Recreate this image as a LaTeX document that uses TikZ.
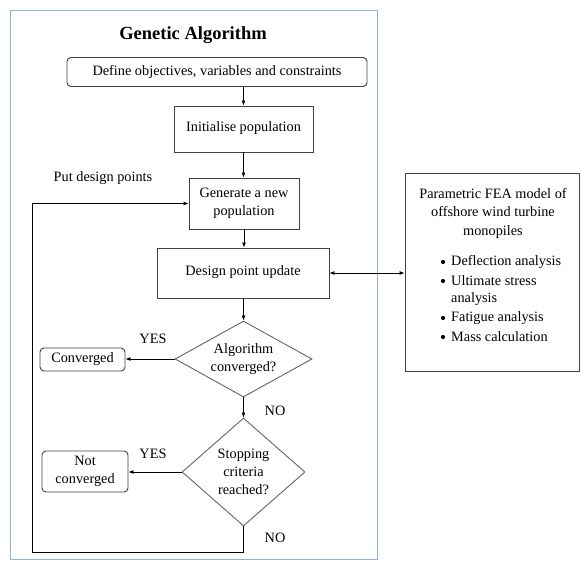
\documentclass[tikz,border=0pt]{standalone}
\usepackage{fontspec}
\setmainfont{Liberation Serif}
\usetikzlibrary{shapes.geometric,arrows.meta}
\definecolor{framec}{RGB}{140,180,226}
\definecolor{boxc}{RGB}{64,64,64}
\definecolor{diac}{RGB}{100,100,100}
\begin{document}
\begin{tikzpicture}[x=1pt,y=-1pt,
  every node/.style={font=\fontsize{14.3}{18}\selectfont},
  box/.style={draw=boxc,line width=0.9pt,rectangle,inner sep=0pt,align=center},
  rbox/.style={box,rounded corners=4pt},
  dia/.style={draw=diac,line width=0.9pt,diamond,inner sep=0pt},
  txt/.style={inner sep=0pt,align=center},
  dot/.style={circle,fill=black,inner sep=0pt,minimum size=4.2pt},
  arr/.style={-{Latex[length=5pt,width=4pt]},line width=0.8pt,black},
  darr/.style={{Latex[length=5pt,width=4pt]}-{Latex[length=5pt,width=4pt]},line width=0.8pt,black}]
\useasboundingbox (0,0) rectangle (581,560);
\draw[framec,line width=0.9pt] (10,10) rectangle (377,559);
\node[txt,font=\fontsize{18.5}{20}\selectfont\bfseries] (title) at (193,35) {Genetic Algorithm};
\node[rbox,minimum width=300pt,minimum height=29pt] (def) at (217,72) {Define objectives, variables and constraints};
\node[box,minimum width=139pt,minimum height=46pt,label={[txt]center:{\raisebox{4pt}{Initialise population}}}] (init) at (243.5,129) {};
\node[box,minimum width=110pt,minimum height=51pt] (gen) at (244,203.5) {Generate a new\\population};
\node[box,minimum width=172pt,minimum height=50pt,label={[txt]center:{\raisebox{4pt}{Design point update}}}] (des) at (243,273) {};
\node[box,minimum width=174pt,minimum height=198pt] (fea) at (492,272) {};
\node[txt,anchor=north,font=\fontsize{14.3}{18.5}\selectfont] (featitle) at (493,188) {Parametric FEA model of\\offshore wind turbine\\monopiles};
\node[dot] (b1) at (443,262) {};
\node[txt,anchor=west] (t1) at (451,262) {Deflection analysis};
\node[dot] (b2) at (443,281) {};
\node[txt,anchor=west] (t2) at (451,281) {Ultimate stress};
\node[txt,anchor=west] (t2b) at (451,299) {analysis};
\node[dot] (b3) at (443,318) {};
\node[txt,anchor=west] (t3) at (451,318) {Fatigue analysis};
\node[dot] (b4) at (443,337) {};
\node[txt,anchor=west] (t4) at (451,337) {Mass calculation};
\node[dia,minimum width=137pt,minimum height=76pt,label={[txt]center:Algorithm\\converged?}] (d1) at (243.5,359) {};
\node[rbox,minimum width=85pt,minimum height=23pt] (conv) at (82.5,359.5) {Converged};
\node[dia,minimum width=123pt,minimum height=108pt,label={[txt]center:Stopping\\criteria\\reached?}] (d2) at (243.5,472) {};
\node[rbox,minimum width=86pt,minimum height=41pt] (nconv) at (85,471.5) {Not\\converged};
\node[txt] (put) at (103,178) {Put design points};
\node[txt] (yes1) at (153,339) {YES};
\node[txt] (yes2) at (153,454) {YES};
\node[txt] (no1) at (275,411) {NO};
\node[txt] (no2) at (275,538) {NO};
\coordinate (lb) at (32,552);
\coordinate (lt) at (32,203.5);
\draw[arr] (def.south -| init.north) -- (init.north);
\draw[arr] (init.south) -- (init.south |- gen.north);
\draw[arr] (gen.south) -- (gen.south |- des.north);
\draw[arr] (des.south -| d1.north) -- (d1.north);
\draw[darr] (des.east) -- (des.east -| fea.west);
\draw[arr] (d1.west) -- (conv.east |- d1.west);
\draw[arr] (d1.south) -- (d2.north);
\draw[arr] (d2.west) -- (nconv.east |- d2.west);
\draw[arr] (d2.south) -- (d2.south |- lb) -- (lb) -- (lt) -- (gen.west);
\end{tikzpicture}
\end{document}
